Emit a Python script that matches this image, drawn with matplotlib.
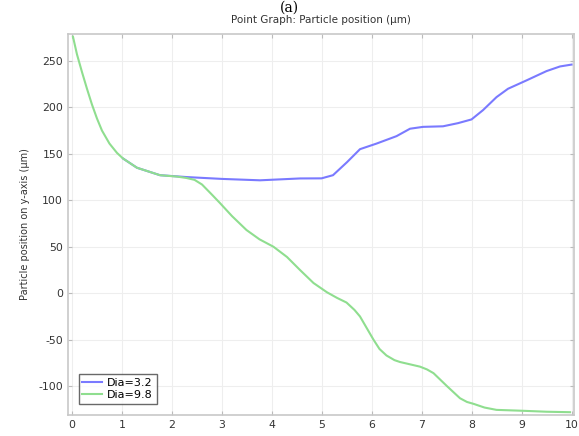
import matplotlib
matplotlib.use('Agg')
from matplotlib import pyplot as plt

plt.rcParams['axes.unicode_minus'] = False

# Dia=3.2 (blue) trajectory
x_blue = [1.02, 1.3, 1.76, 2.29, 3.0, 3.76, 4.56, 4.99, 5.22, 5.5, 5.76, 6.09,
          6.49, 6.76, 7.02, 7.42, 7.72, 7.99, 8.22, 8.49, 8.72, 9.09, 9.49, 9.76, 9.99]
y_blue = [145, 135, 127, 125, 123, 121.5, 123.5, 123.6, 127, 141, 155, 161,
          169, 177, 179, 179.6, 183, 187, 197, 211, 220, 229, 239, 244, 246]

# Dia=9.8 (green) trajectory
x_green = [0.02, 0.1, 0.2, 0.3, 0.4, 0.5, 0.6, 0.75, 0.9, 1.02, 1.3, 1.76,
           2.1, 2.29, 2.45, 2.6, 2.8, 2.96, 3.2, 3.49, 3.75, 4.03, 4.3, 4.56,
           4.83, 5.1, 5.3, 5.49, 5.65, 5.76, 5.9, 6.03, 6.15, 6.29, 6.45, 6.56,
           6.8, 6.96, 7.1, 7.23, 7.5, 7.76, 7.9, 8.03, 8.25, 8.49, 9.03, 9.49, 9.96]
y_green = [276, 257, 238, 220, 203, 188, 175, 161, 151, 145, 135, 127,
           125.5, 124, 122, 117, 106, 97, 83, 68, 58, 50, 39, 25,
           11, 1, -5, -10, -18, -25, -38, -50, -60, -67, -72, -74,
           -77, -79, -82, -86, -100, -113, -117, -119, -123, -125.5, -126.5, -127.5, -128]

x_ticks = list(range(0, 11))
y_ticks = [-100, -50, 0, 50, 100, 150, 200, 250]

fig = plt.figure(figsize=(5.79, 4.36), dpi=100)
ax = fig.add_axes([0.1174, 0.0482, 0.874, 0.874])

ax.plot(x_blue, y_blue, color='#7a7aff', linewidth=1.5, label='Dia=3.2')
ax.plot(x_green, y_green, color='#8fde8f', linewidth=1.5, label='Dia=9.8')

ax.set_xlim(-0.08, 10.04)
ax.set_ylim(-131, 279)
ax.set_xticks(x_ticks)
ax.set_yticks(y_ticks)
ax.grid(True, color='#eeeeee', linewidth=0.8)
ax.tick_params(direction='in', top=True, right=True, labelsize=7.8,
               colors='#bbbbbb', labelcolor='#333333', length=3)
for s in ax.spines.values():
    s.set_color('#c8c8c8')
    s.set_linewidth(1.2)

ax.set_ylabel('Particle position on y-axis (µm)', fontsize=7, color='#333333', labelpad=6)
ax.set_title('Point Graph: Particle position (µm)', fontsize=7.5, color='#333333', pad=8)

leg = ax.legend(loc='lower left', fontsize=8, fancybox=False, handlelength=1.8,
                borderpad=0.35, labelspacing=0.2, handletextpad=0.4,
                bbox_to_anchor=(0.01, 0.015))
leg.get_frame().set_edgecolor('#444444')
leg.get_frame().set_linewidth(1.0)

fig.text(0.5, 0.999, '(a)', ha='center', va='top', fontsize=10, family='serif')

plt.savefig('out.png', dpi=100)
